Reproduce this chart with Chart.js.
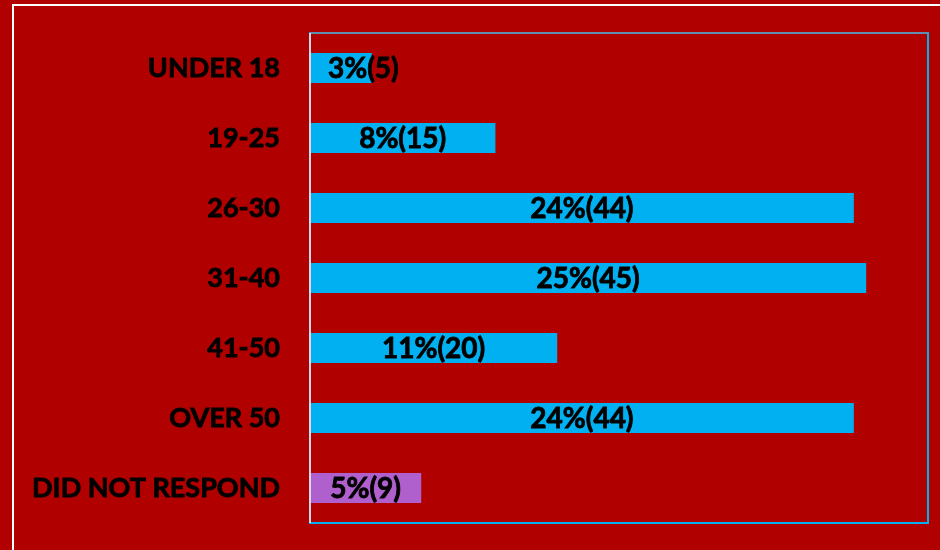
<!DOCTYPE html>
<html>
<head>
<meta charset="utf-8">
<script src="https://cdn.jsdelivr.net/npm/chart.js@4"></script>
<style>
  body { margin: 0; background: #b00000; }
  #wrap { width: 940px; height: 550px; }
</style>
</head>
<body>
<div id="wrap"><canvas id="grafico"></canvas></div>
<script>
const faixas = ['UNDER 18', '19-25', '26-30', '31-40', '41-50', 'OVER 50', 'DID NOT RESPOND'];
const respostas = [5, 15, 44, 45, 20, 44, 9];
const percentuais = ['3%', '8%', '24%', '25%', '11%', '24%', '5%'];
const cores = ['#00b0f0', '#00b0f0', '#00b0f0', '#00b0f0', '#00b0f0', '#00b0f0', '#b060cc'];

const fonte = 'Lato, "Open Sans", sans-serif';

// background, outer white frame and plot border
const moldura = {
    id: 'moldura',
    beforeDraw(chart) {
        const ctx = chart.ctx;
        ctx.save();
        ctx.fillStyle = '#b00000';
        ctx.fillRect(0, 0, chart.width, chart.height);
        ctx.strokeStyle = '#ffffff';
        ctx.lineWidth = 2;
        ctx.beginPath();
        ctx.moveTo(13, chart.height + 5);
        ctx.lineTo(13, 5);
        ctx.lineTo(chart.width + 5, 5);
        ctx.stroke();
        ctx.restore();
    },
    afterDatasetsDraw(chart) {
        const a = chart.chartArea;
        const ctx = chart.ctx;
        ctx.save();
        ctx.lineWidth = 2;
        ctx.strokeStyle = '#00b0f0';
        ctx.strokeRect(a.left, a.top, a.right - a.left, a.bottom - a.top);
        ctx.strokeStyle = '#5f8fb0';
        ctx.beginPath();
        ctx.moveTo(a.left, a.top);
        ctx.lineTo(a.right, a.top);
        ctx.stroke();
        ctx.strokeStyle = '#d8d8e8';
        ctx.beginPath();
        ctx.moveTo(a.left, a.top);
        ctx.lineTo(a.left, a.bottom);
        ctx.stroke();
        ctx.restore();
    }
};

// "3%(5)" style labels inside the bars
const rotulos = {
    id: 'rotulos',
    afterDatasetsDraw(chart) {
        const ctx = chart.ctx;
        const meta = chart.getDatasetMeta(0);
        ctx.save();
        ctx.font = 'bold 28px ' + fonte;
        ctx.fillStyle = '#000000';
        ctx.strokeStyle = '#000000';
        ctx.lineWidth = 0.8;
        ctx.textAlign = 'center';
        ctx.textBaseline = 'middle';
        meta.data.forEach((bar, i) => {
            const txt = percentuais[i] + '(' + respostas[i] + ')';
            const w = ctx.measureText(txt).width;
            let x = (bar.base + bar.x) / 2;
            x = Math.max(x, bar.base + 18 + w / 2);
            ctx.fillText(txt, x, bar.y + 1);
            ctx.strokeText(txt, x, bar.y + 1);
        });
        ctx.restore();
    }
};

const ctx = document.getElementById('grafico').getContext('2d');
new Chart(ctx, {
    type: 'bar',
    data: {
        labels: faixas,
        datasets: [{
            data: respostas,
            backgroundColor: cores,
            categoryPercentage: 1,
            barPercentage: 0.43
        }]
    },
    options: {
        indexAxis: 'y',
        responsive: true,
        maintainAspectRatio: false,
        animation: false,
        layout: { padding: { top: 33, bottom: 27, right: 12, left: 0 } },
        plugins: { legend: { display: false }, tooltip: { enabled: false } },
        scales: {
            x: { display: false, min: 0, max: 50 },
            y: {
                afterFit(s) {
                    s.width = 310;
                    s.paddingTop = 0;
                    s.paddingBottom = 0;
                },
                grid: { display: false },
                border: { display: false },
                ticks: {
                    padding: 22,
                    color: '#000000',
                    textStrokeColor: '#000000',
                    textStrokeWidth: 0.8,
                    font: { family: fonte, size: 27, weight: 'bold' }
                }
            }
        }
    },
    plugins: [moldura, rotulos]
});
</script>
</body>
</html>
